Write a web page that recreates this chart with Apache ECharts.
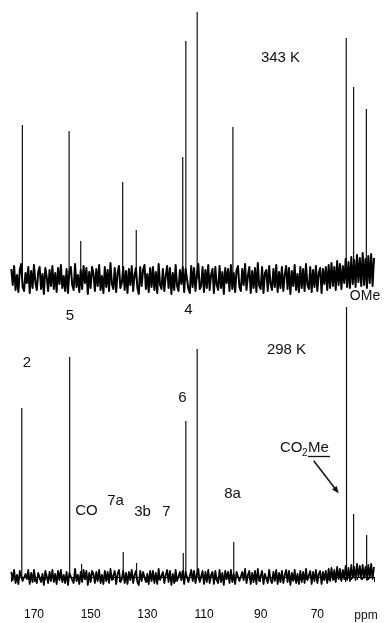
<!DOCTYPE html>
<html>
<head>
<meta charset="utf-8">
<script src="https://cdn.jsdelivr.net/npm/echarts/dist/echarts.min.js"></script>
<style>
  html, body { margin: 0; padding: 0; background: #fff; }
  #main { width: 386px; height: 623px; }
</style>
</head>
<body>
<div id="main"></div>
<script>
// ppm grid of the baseline noise (0.5 ppm step from 178 down to 50)
const noiseStart = 178
const noiseStep = 0.5

// baseline noise, 343 K trace
const noise343 = [
  10, -6, 13, -11, 4, -13, 9, 15, -8, -12, 6, -4, 12, -14, 8, -9,
  14, -3, -11, 7, 12, -10, 5, -15, 11, 2, -12, 9, -7, 13, -10, 6,
  -13, 11, -5, 14, -9, 3, -12, 10, -14, 8, 12, -6, -11, 15, -8, 4,
  -13, 9, -10, 13, -4, 11, -15, 7, -9, 12, 5, -12, 10, -7, 14, -11,
  3, -14, 12, -8, 9, -12, 16, -5, -10, 11, -13, 6, 13, -9, -4, 12,
  -11, 8, -14, 10, -6, 13, -12, 4, 11, -9, -15, 12, -7, 9, 14, -10,
  5, -13, 11, -8, 12, -11, 7, -14, 15, -6, -10, 10, -12, 3, 13, -9,
  11, -15, 6, -11, 14, -7, -12, 9, -5, 12, -13, 10, 8, -10, -14, 13,
  -8, 11, -12, 5, 15, -10, -7, 12, -13, 9, -9, 14, -11, 4, 10, -14,
  12, -6, -11, 13, -9, 7, -15, 11, -4, 10, -12, 14, -10, 6, -13, 9,
  13, -8, -12, 10, -6, 15, -11, 3, 12, -14, 8, -9, 11, -13, 16, -7,
  -10, 12, -14, 6, 9, -12, 13, -5, -11, 10, -8, 14, -13, 7, -9, 12,
  -12, 4, 13, -10, 11, -15, 8, -7, 14, -11, 5, -13, 12, -9, 10, -12,
  15, -6, -10, 12, -13, 9, -8, 13, -12, 6, 11, -14, 10, -5, 12, -11,
  14, -9, 16, -7, 12, -11, 18, -6, 15, -10, 13, -4, 20, -8, 17, -9,
  22, -5, 19, -8, 24, -3, 21, -7, 26, -6, 20, -9, 23, -4, 25, -7,
  21
]

// baseline noise, 298 K trace
const noise298 = [
  5, -3, 7, -6, 2, -7, 6, 8, -4, -6, 3, -2, 7, -7, 4, -5,
  7, -2, -6, 4, 6, -5, 3, -8, 6, 1, -6, 5, -4, 7, -5, 3,
  -7, 6, -3, 7, -5, 2, -6, 5, -8, 4, 6, -3, -6, 8, -4, 2,
  -7, 5, -5, 7, -2, 6, -8, 4, -5, 6, 3, -6, 5, -4, 7, -6,
  2, -7, 6, -4, 5, -6, 8, -3, -5, 6, -7, 3, 7, -5, -2, 6,
  -6, 4, -7, 5, -3, 7, -6, 2, 6, -5, -8, 6, -4, 5, 7, -5,
  3, -7, 6, -4, 6, -6, 4, -7, 8, -3, -5, 5, -6, 2, 7, -5,
  6, -8, 3, -6, 7, -4, -6, 5, -3, 6, -7, 5, 4, -5, -7, 7,
  -4, 6, -6, 3, 8, -5, -4, 6, -7, 5, -5, 7, -6, 2, 5, -7,
  6, -3, -6, 7, -5, 4, -8, 6, -2, 5, -6, 7, -5, 3, -7, 5,
  7, -4, -6, 5, -3, 8, -6, 2, 6, -7, 4, -5, 6, -7, 8, -4,
  -5, 6, -7, 3, 5, -6, 7, -3, -6, 5, -4, 7, -7, 4, -5, 6,
  -6, 2, 7, -5, 6, -8, 4, -4, 7, -6, 3, -7, 6, -5, 5, -6,
  8, -3, -5, 6, -7, 5, -4, 7, -6, 3, 6, -7, 5, -3, 6, -6,
  8, -4, 9, -3, 7, -5, 10, -2, 8, -4, 7, -2, 11, -3, 9, -4,
  12, -1, 10, -3, 13, 0, 11, -2, 12, -1, 10, -3, 12, -1, 13, -2,
  10
]

// peaks, 343 K
const peaks343Ppm = [174.1, 157.6, 153.5, 138.7, 133.9, 117.5, 116.4, 112.4, 99.8, 59.8, 57.2, 52.7]
const peaks343Int = [154, 148, 38, 97, 49, 122, 238, 267, 152, 241, 192, 170]

// peaks, 298 K
const peaks298Ppm = [174.3, 157.4, 153.2, 138.5, 133.8, 117.3, 116.4, 112.4, 99.5, 59.7, 57.2, 52.6]
const peaks298Int = [169, 220, 13, 25, 14, 24, 156, 228, 35, 270, 63, 42]

// axis labels
const tickLabels = [170, 150, 130, 110, 90, 70]

const toNoise = (arr) => arr.map((v, i) => [noiseStart - i * noiseStep, v])
const toPeaks = (ppm, ints) => ppm.map((p, i) => [p, ints[i]])

const font = '"Liberation Sans", Arial, sans-serif'
const annot = [
  { t: '343 K', x: 280.5, y: 58 },
  { t: '298 K', x: 286.5, y: 350 },
  { t: '2', x: 27, y: 363 },
  { t: '5', x: 70, y: 315.5 },
  { t: '4', x: 188.5, y: 310 },
  { t: '6', x: 182.5, y: 397.5 },
  { t: 'CO', x: 86.5, y: 511 },
  { t: '7a', x: 115.5, y: 500.5 },
  { t: '3b', x: 142.5, y: 512 },
  { t: '7', x: 166.5, y: 512 },
  { t: '8a', x: 232.5, y: 494 }
]

const graphic = annot.map((a) => ({
  type: 'text',
  style: { text: a.t, x: a.x, y: a.y, textAlign: 'center', textVerticalAlign: 'middle', font: '15px ' + font, fill: '#111' }
}))
graphic.push(
  { type: 'text', style: { text: 'OMe', x: 365, y: 296.5, textAlign: 'center', textVerticalAlign: 'middle', font: '14px ' + font, fill: '#111' } },
  { type: 'text', style: { text: 'CO', x: 280, y: 448, textAlign: 'left', textVerticalAlign: 'middle', font: '15px ' + font, fill: '#111' } },
  { type: 'text', style: { text: '2', x: 302, y: 453, textAlign: 'left', textVerticalAlign: 'middle', font: '10px ' + font, fill: '#111' } },
  { type: 'text', style: { text: 'Me', x: 308, y: 448, textAlign: 'left', textVerticalAlign: 'middle', font: '15px ' + font, fill: '#111' } },
  { type: 'line', shape: { x1: 308, y1: 456.5, x2: 330, y2: 456.5 }, style: { stroke: '#111', lineWidth: 1.3 } },
  { type: 'line', shape: { x1: 313.7, y1: 460.7, x2: 336, y2: 489.8 }, style: { stroke: '#111', lineWidth: 1.5 } },
  { type: 'polygon', shape: { points: [[338.7, 493.3], [332.0, 489.5], [336.8, 485.9]] }, style: { fill: '#111' } },
  { type: 'text', style: { text: 'ppm', x: 366, y: 616, textAlign: 'center', textVerticalAlign: 'middle', font: '12px ' + font, fill: '#111' } }
)

const chart = echarts.init(document.getElementById('main'))
chart.setOption({
  animation: false,
  backgroundColor: '#fff',
  grid: [
    { left: 11.3, right: 12, top: 0, height: 300 },
    { left: 11.3, right: 12, top: 0, bottom: 26 }
  ],
  xAxis: [
    { gridIndex: 0, type: 'value', inverse: true, min: 50, max: 178, show: false },
    {
      gridIndex: 1, type: 'value', inverse: true, min: 50, max: 178, interval: 10,
      axisLine: { show: true, lineStyle: { color: '#000', width: 1 } },
      axisTick: { show: true, length: 5, lineStyle: { color: '#000' } },
      minorTick: { show: true, splitNumber: 5, length: 3, lineStyle: { color: '#000' } },
      splitLine: { show: false },
      axisLabel: {
        margin: 12, color: '#000', fontSize: 12, fontFamily: font,
        showMinLabel: true, showMaxLabel: true,
        formatter: (v) => (tickLabels.includes(v) ? String(v) : '')
      }
    }
  ],
  yAxis: [
    { gridIndex: 0, type: 'value', min: -21, max: 279, show: false },
    { gridIndex: 1, type: 'value', min: -20, max: 577, show: false }
  ],
  series: [
    {
      type: 'line', xAxisIndex: 0, yAxisIndex: 0, data: toNoise(noise343),
      symbol: 'none', lineStyle: { color: '#000', width: 2, join: 'round' }
    },
    {
      type: 'bar', xAxisIndex: 0, yAxisIndex: 0, data: toPeaks(peaks343Ppm, peaks343Int),
      barWidth: 1.2, itemStyle: { color: '#111' }
    },
    {
      type: 'line', xAxisIndex: 1, yAxisIndex: 1, data: toNoise(noise298),
      symbol: 'none', lineStyle: { color: '#000', width: 1.8, join: 'round' }
    },
    {
      type: 'bar', xAxisIndex: 1, yAxisIndex: 1, data: toPeaks(peaks298Ppm, peaks298Int),
      barWidth: 1.2, itemStyle: { color: '#111' }
    }
  ],
  graphic: graphic
})
</script>
</body>
</html>
